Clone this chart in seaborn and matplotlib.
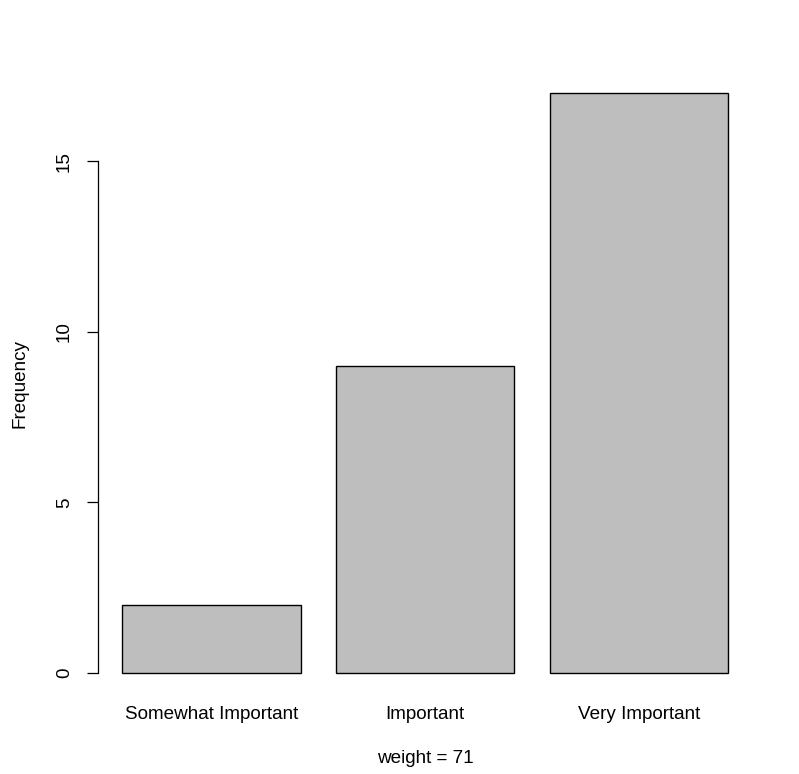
import matplotlib

matplotlib.use("Agg")
import matplotlib.pyplot as plt
import pandas as pd
import seaborn as sns

categories = ["Somewhat Important", "Important", "Very Important"]
counts = [2, 9, 17]
y_ticks = [0, 5, 10, 15]
x_title = "weight = 71"
y_title = "Frequency"

sns.set_theme(style="white")
plt.rcParams["font.family"] = ["Liberation Sans", "DejaVu Sans"]
plt.rcParams["text.color"] = "black"
plt.rcParams["axes.labelcolor"] = "black"
plt.rcParams["xtick.color"] = "black"
plt.rcParams["ytick.color"] = "black"

df = pd.DataFrame({"category": categories, "count": counts})

fig = plt.figure(figsize=(7.99, 7.74), dpi=100)
ax = fig.add_axes([98 / 799, 78 / 774, 693 / 799, 626 / 774])

sns.barplot(data=df, x="category", y="count", color="#bebebe", saturation=1,
            width=0.833, edgecolor="black", linewidth=1.0, ax=ax)

ax.set_xlim(-0.531, 2.711)
ax.set_ylim(-0.68, 17.68)
ax.set_yticks(y_ticks)
ax.set_yticklabels([str(t) for t in y_ticks])

for side in ["top", "right", "bottom"]:
    ax.spines[side].set_visible(False)
ax.spines["left"].set_bounds(0, 15)
ax.spines["left"].set_color("black")
ax.spines["left"].set_linewidth(0.9)

fs = 13.6
ax.tick_params(axis="y", length=8, width=0.9, color="black", pad=10,
               labelsize=fs, labelrotation=90, left=True)
ax.tick_params(axis="x", length=0, pad=7, labelsize=fs)
for lab in ax.get_yticklabels():
    lab.set_va("center")

ax.set_xlabel(x_title, fontsize=fs)
ax.xaxis.set_label_coords(0.472, -0.086)
ax.set_ylabel(y_title, fontsize=fs)
ax.yaxis.set_label_coords(-0.1, 0.5)
ax.grid(False)

fig.savefig("out.png", dpi=100)
plt.close(fig)
